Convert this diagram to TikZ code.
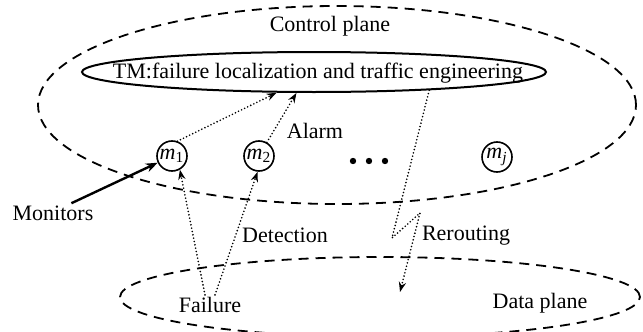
\documentclass[tikz,border=0pt]{standalone}
\usepackage{fontspec}
\setmainfont{Liberation Serif}
\usetikzlibrary{shapes.geometric,arrows.meta}

\tikzstyle{plane}=[ellipse, draw, inner sep=0pt, line width=0.9pt, dash pattern=on 5pt off 3.5pt]
\tikzstyle{tm-box}=[ellipse, draw, inner sep=0pt, line width=1pt, minimum width=232pt, minimum height=20pt]
\tikzstyle{monitor}=[circle, draw, inner sep=0pt, line width=0.8pt, minimum size=15pt]
\tikzstyle{more-dot}=[circle, fill, inner sep=0pt, minimum size=3.2pt]
\tikzstyle{tag}=[inner sep=1pt]
\tikzstyle{signal}=[-{Stealth[length=5pt,width=3.6pt]}, line width=0.9pt, line cap=round, dash pattern=on 0pt off 1.7pt]
\tikzstyle{pointer}=[-{Stealth[length=6pt,width=4.5pt]}, line width=1.2pt]

\begin{document}
\begin{tikzpicture}[x=0.5pt, y=-0.5pt, font=\fontsize{11}{13}\selectfont]
  \useasboundingbox (0,0) rectangle (643,332);
  \node (control-plane) at (337,105) [plane, minimum width=299pt, minimum height=99pt] {};
  \node (data-plane) at (380,297) [plane, minimum width=260pt, minimum height=40pt] {};
  \node (control-label) at (330,26) [tag] {Control plane};
  \node (data-label) at (540,303) [tag] {Data plane};

  \node (tm) at (314,72) [tm-box] {};
  \node (tm-label) at (318,73) [tag] {TM:failure localization and traffic engineering};

  \node (m1) at (172,156) [monitor] {\textit{m}\textsubscript{1}};
  \node (m2) at (259,156) [monitor] {\textit{m}\textsubscript{2}};
  \node (mj) at (497,157) [monitor] {\textit{m}\textsubscript{\textit{j}}};
  \foreach \x/\n in {353/1, 369/2, 385/3}
    \node (more\n) at (\x,161) [more-dot] {};

  \node (monitors) at (53,213) [tag] {Monitors};
  \node (failure) at (210,305) [tag] {Failure};
  \node (alarm) at (315,131) [tag] {Alarm};
  \node (detection) at (285,235) [tag] {Detection};
  \node (rerouting) at (466,236) [tag] {Rerouting};

  \coordinate (bend1) at (392,238);
  \coordinate (bend2) at (420,213);
  \coordinate (reroute-end) at (400,292);

  \draw[pointer] (monitors.28) -- (m1);
  \draw[signal] ([xshift=-2.5pt]failure.north) -- (m1.300);
  \draw[signal] ([xshift=2.5pt]failure.north) -- (m2.265);
  \draw[signal] (m1.70) -- (tm.209);
  \draw[signal] (m2.60) -- (tm.230);
  \draw[signal] (tm.351) -- (bend1) -- (bend2) -- (reroute-end);
\end{tikzpicture}
\end{document}
